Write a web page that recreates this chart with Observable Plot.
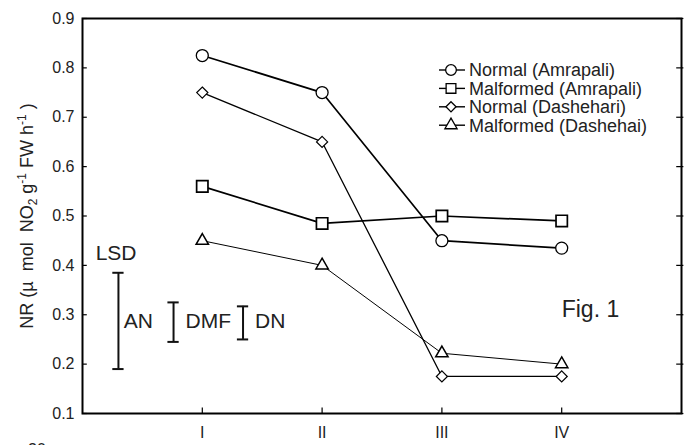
<!DOCTYPE html>
<html>
<head>
<meta charset="utf-8">
<script src="https://cdn.jsdelivr.net/npm/d3@7"></script>
<script src="https://cdn.jsdelivr.net/npm/@observablehq/plot@0.6"></script>
<style>
  html, body { margin: 0; padding: 0; background: #fff; }
  svg { display: block; }
</style>
</head>
<body>
<div id="chart"></div>
<script>
const periods = ["I", "II", "III", "IV"];
const periodX = [1, 2, 3, 4];
const seriesNames = ["Normal (Amrapali)", "Malformed (Amrapali)", "Normal (Dashehari)", "Malformed (Dashehai)"];
const normalAmrapali = [0.825, 0.75, 0.45, 0.435];
const malformedAmrapali = [0.56, 0.485, 0.50, 0.49];
const normalDashehari = [0.75, 0.65, 0.175, 0.175];
const malformedDashehai = [0.45, 0.40, 0.222, 0.20];
const yTicks = [0.1, 0.2, 0.3, 0.4, 0.5, 0.6, 0.7, 0.8, 0.9];
const lsdNames = ["", "AN", "DMF", "DN"];
const lsdLow = [0.19, 0.245, 0.25];
const lsdHigh = [0.385, 0.325, 0.317];

const seriesValues = [normalAmrapali, malformedAmrapali, normalDashehari, malformedDashehai];
const symbols = ["circle", "square", "diamond2", "triangle"];
const lineWidths = [1.7, 1.7, 1.3, 1.0];
const dotR = [6, 6.4, 5.0, 4.6];
const dotSW = [1.3, 1.7, 1.2, 1.5];

const rows = [];
seriesNames.forEach((s, i) => seriesValues[i].forEach((v, j) => rows.push({series: s, idx: i, x: periodX[j], y: v})));

// annotation positions (x in axis units)
const lsdBarX = [0.30, 0.76, 1.34];
const lsdRows = lsdLow.map((lo, i) => ({x: lsdBarX[i], lo, hi: lsdHigh[i]}));
const capHalf = 0.047;
const lsdTextX = [0.11, 0.345, 0.86, 1.44];
const lsdTextY = [0.425, 0.286, 0.286, 0.286];

const font = "Liberation Sans, Arial, sans-serif";

const marks = [
  Plot.ruleY(yTicks, {x1: 0, x2: 0.04, y: d => d, stroke: "#000", strokeWidth: 1.2}),
  Plot.ruleY(yTicks, {x1: 4.96, x2: 5.02, y: d => d, stroke: "#000", strokeWidth: 1.2}),
  Plot.ruleX(periodX, {x: d => d, y1: 0.1, y2: 0.111, stroke: "#000", strokeWidth: 1.2}),
  ...seriesNames.map((s, i) => Plot.line(rows.filter(r => r.idx === i), {x: "x", y: "y", stroke: "#000", strokeWidth: lineWidths[i]})),
  ...seriesNames.map((s, i) => Plot.dot(rows.filter(r => r.idx === i), {x: "x", y: "y", symbol: () => symbols[i], r: dotR[i], fill: "#fff", stroke: "#000", strokeWidth: dotSW[i]})),
  // LSD bars
  Plot.ruleX(lsdRows, {x: "x", y1: "lo", y2: "hi", stroke: "#111", strokeWidth: 2}),
  Plot.ruleY(lsdRows, {x1: d => d.x - capHalf, x2: d => d.x + capHalf, y: "lo", stroke: "#111", strokeWidth: 2}),
  Plot.ruleY(lsdRows, {x1: d => d.x - capHalf, x2: d => d.x + capHalf, y: "hi", stroke: "#111", strokeWidth: 2}),
  Plot.text(["LSD", ...lsdNames.slice(1)], {x: (d, i) => lsdTextX[i], y: (d, i) => lsdTextY[i], text: d => d, textAnchor: "start", fontSize: 21, fill: "#222", fontFamily: font}),
  Plot.text(["Fig. 1"], {x: 4.0, y: 0.31, text: d => d, textAnchor: "start", fontSize: 23, fill: "#222", fontFamily: font}),
  Plot.frame({stroke: "#000", strokeWidth: 2}),
  Plot.axisY({ticks: yTicks, tickSize: 0, tickPadding: 8, tickFormat: d3.format(".1f"), fontSize: 16, label: null}),
  Plot.axisX({ticks: periodX, tickSize: 0, tickPadding: 13, tickFormat: d => periods[d - 1], fontSize: 16, label: null})
];

const chart = Plot.plot({
  width: 688,
  height: 445,
  marginLeft: 82,
  marginRight: 7,
  marginTop: 18,
  marginBottom: 32,
  style: {fontFamily: font, fontSize: "16px", color: "#222", background: "#fff"},
  x: {domain: [0, 5]},
  y: {domain: [0.1, 0.9]},
  marks
});
document.getElementById("chart").appendChild(chart);

const svg = d3.select(chart);
// y-axis label with sub/superscripts
const yl = svg.append("text")
  .attr("transform", "translate(33,216) rotate(-90)")
  .attr("text-anchor", "middle")
  .attr("font-family", font)
  .attr("font-size", 18)
  .attr("fill", "#222");
yl.append("tspan").text("NR (\u00b5  mol  NO");
yl.append("tspan").attr("font-size", 12).attr("dy", 4).text("2");
yl.append("tspan").attr("dy", -4).text(" g");
yl.append("tspan").attr("font-size", 12).attr("dy", -7).text("-1");
yl.append("tspan").attr("dy", 7).text(" FW h");
yl.append("tspan").attr("font-size", 12).attr("dy", -7).text("-1");
yl.append("tspan").attr("dy", 7).text(" )");

// legend
const legX = 451, legY0 = 70, legDy = 18.4;
seriesNames.forEach((s, i) => {
  const y = legY0 + i * legDy;
  svg.append("line").attr("x1", legX - 12).attr("x2", legX + 14).attr("y1", y).attr("y2", y).attr("stroke", "#000").attr("stroke-width", 1.4);
  const sym = [d3.symbolCircle, d3.symbolSquare, d3.symbolDiamond2, d3.symbolTriangle][i];
  svg.append("path").attr("d", d3.symbol(sym, [90, 95, 65, 65][i])())
    .attr("transform", `translate(${legX},${y})`)
    .attr("fill", "#fff").attr("stroke", "#000").attr("stroke-width", 1.3);
  svg.append("text").attr("x", legX + 18).attr("y", y).attr("dy", "0.35em")
    .attr("text-anchor", "start")
    .attr("font-family", font).attr("font-size", 18).attr("fill", "#222").text(s);
});
// cut-off page number at bottom (as in the reference)
svg.append("text").attr("x", 28).attr("y", 455).attr("text-anchor", "start").attr("font-family", font).attr("font-size", 16).attr("fill", "#222").text("20");
</script>
</body>
</html>
